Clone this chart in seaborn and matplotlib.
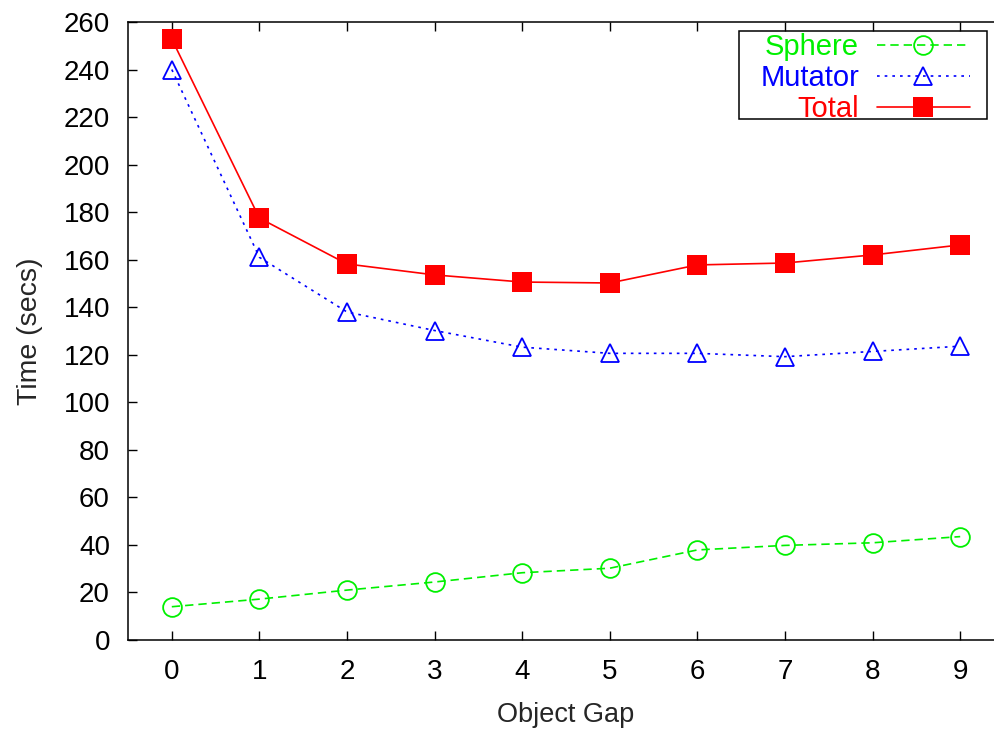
import pandas as pd
import seaborn as sns
import matplotlib.pyplot as plt
from matplotlib.patches import Rectangle

# Données
gap = [0, 1, 2, 3, 4, 5, 6, 7, 8, 9]
sphere = [14.0, 17.2, 21.0, 24.4, 28.3, 30.2, 37.9, 39.8, 40.9, 43.5]
mutator = [240.0, 161.0, 138.0, 130.2, 123.2, 120.6, 120.6, 119.2, 121.4, 123.6]
total = [252.8, 177.5, 158.2, 153.6, 150.6, 150.2, 157.8, 158.6, 162.0, 166.2]

df = pd.DataFrame({"gap": gap, "Sphere": sphere, "Mutator": mutator, "Total": total})

sns.set_style("ticks")
plt.rcParams["font.family"] = ["Liberation Sans", "DejaVu Sans"]

fig = plt.figure(figsize=(9.95, 7.3), dpi=100)
ax = fig.add_axes([128 / 995, 90 / 730, 876 / 995, 618 / 730])

styles = {
    "Sphere": dict(color="#00f000", marker="o", ls=(0, (5, 3)), mfc="none", ms=13.5, mew=1.3),
    "Mutator": dict(color="#0000ff", marker="^", ls=(0, (1.6, 3)), mfc="none", ms=13.5, mew=1.3),
    "Total": dict(color="#ff0000", marker="s", ls="-", mfc="#ff0000", ms=14, mew=0),
}
for name in ["Sphere", "Mutator", "Total"]:
    st = styles[name]
    sns.lineplot(data=df, x="gap", y=name, ax=ax, label=name, color=st["color"],
                 marker=st["marker"], linestyle=st["ls"], markerfacecolor=st["mfc"],
                 markeredgecolor=st["color"], markersize=st["ms"], markeredgewidth=st["mew"],
                 linewidth=1.2, clip_on=False)

ax.set_xlim(-0.5, 9.5)
ax.set_ylim(0, 260)
ax.set_xticks(gap)
ax.set_yticks(range(0, 261, 20))
ax.tick_params(direction="in", length=6.5, width=1, labelsize=20, pad=14,
               top=True, right=True, colors="black")
ax.tick_params(axis="y", pad=13)
for s in ax.spines.values():
    s.set_linewidth(1.1)
    s.set_color("black")
ax.set_xlabel("Object Gap", fontsize=19.5, labelpad=12)
ax.set_ylabel("Time (secs)", fontsize=20.5, labelpad=15)

# légende : texte aligné à droite, cadre dessiné à part
leg = ax.legend(loc="upper right", bbox_to_anchor=(970 / 995, 1 - 33 / 730),
                bbox_transform=fig.transFigure, borderaxespad=0, markerfirst=False,
                fontsize=21, handlelength=3.2, handletextpad=0.6, labelspacing=0.1,
                borderpad=0, frameon=False)
for t, name in zip(leg.get_texts(), ["Sphere", "Mutator", "Total"]):
    t.set_color(styles[name]["color"])
fig.add_artist(Rectangle((739 / 995, 1 - 119 / 730), 248 / 995, 88 / 730,
                         transform=fig.transFigure, fill=False, lw=1.1, ec="black"))

fig.savefig("out.png", dpi=100)
